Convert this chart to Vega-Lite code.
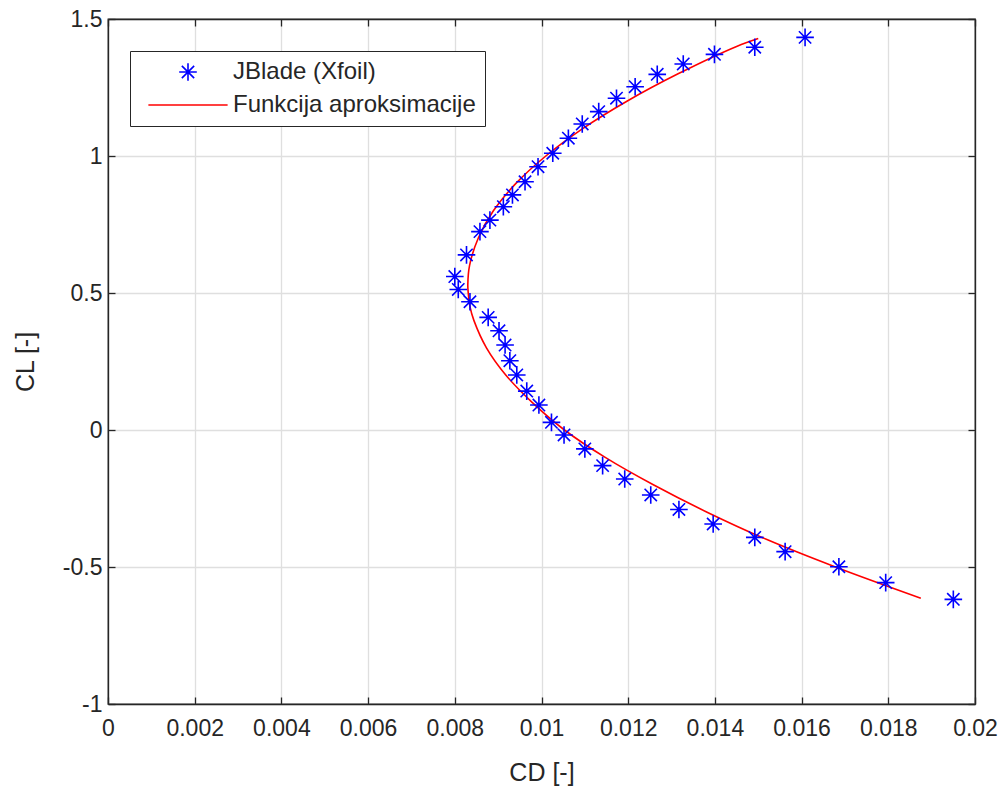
{
  "$schema": "https://vega.github.io/schema/vega-lite/v6.json",
  "width": 867,
  "height": 685,
  "autosize": {"type": "none"},
  "padding": {"left": 108, "top": 19, "right": 31, "bottom": 90},
  "background": "white",
  "config": {
    "font": "Liberation Sans",
    "view": {"stroke": "#262626", "strokeWidth": 1.3},
    "axis": {
      "domainColor": "#262626",
      "domainWidth": 1.3,
      "tickColor": "#262626",
      "tickWidth": 1.3,
      "tickSize": -7,
      "labelFlush": false,
      "labelOverlap": false,
      "labelFontSize": 23,
      "labelColor": "#262626",
      "gridColor": "#dfdfdf",
      "gridWidth": 1.3,
      "titleFontSize": 25,
      "titleFontWeight": "normal",
      "titleColor": "#262626"
    },
    "legend": {
      "orient": "none",
      "legendX": 22,
      "legendY": 32,
      "padding": 9,
      "rowPadding": 8,
      "strokeColor": "#262626",
      "fillColor": "white",
      "labelFontSize": 24,
      "labelColor": "#262626",
      "labelLimit": 0,
      "symbolSize": 310,
      "symbolStrokeWidth": 1.6,
      "symbolOffset": 37,
      "labelOffset": 33,
      "title": null
    }
  },
  "data": {
    "values": [
      {"series": "JBlade (Xfoil)", "CD": 0.01608, "CL": 1.433},
      {"series": "JBlade (Xfoil)", "CD": 0.01492, "CL": 1.397},
      {"series": "JBlade (Xfoil)", "CD": 0.01399, "CL": 1.371},
      {"series": "JBlade (Xfoil)", "CD": 0.01327, "CL": 1.336},
      {"series": "JBlade (Xfoil)", "CD": 0.01267, "CL": 1.298},
      {"series": "JBlade (Xfoil)", "CD": 0.01216, "CL": 1.253},
      {"series": "JBlade (Xfoil)", "CD": 0.01173, "CL": 1.211},
      {"series": "JBlade (Xfoil)", "CD": 0.01132, "CL": 1.162},
      {"series": "JBlade (Xfoil)", "CD": 0.01094, "CL": 1.117},
      {"series": "JBlade (Xfoil)", "CD": 0.01062, "CL": 1.065},
      {"series": "JBlade (Xfoil)", "CD": 0.01026, "CL": 1.010},
      {"series": "JBlade (Xfoil)", "CD": 0.00992, "CL": 0.961},
      {"series": "JBlade (Xfoil)", "CD": 0.00962, "CL": 0.906},
      {"series": "JBlade (Xfoil)", "CD": 0.00933, "CL": 0.858},
      {"series": "JBlade (Xfoil)", "CD": 0.00912, "CL": 0.815},
      {"series": "JBlade (Xfoil)", "CD": 0.00881, "CL": 0.766},
      {"series": "JBlade (Xfoil)", "CD": 0.00858, "CL": 0.724},
      {"series": "JBlade (Xfoil)", "CD": 0.00827, "CL": 0.639},
      {"series": "JBlade (Xfoil)", "CD": 0.00800, "CL": 0.560},
      {"series": "JBlade (Xfoil)", "CD": 0.00808, "CL": 0.513},
      {"series": "JBlade (Xfoil)", "CD": 0.00835, "CL": 0.468},
      {"series": "JBlade (Xfoil)", "CD": 0.00877, "CL": 0.411},
      {"series": "JBlade (Xfoil)", "CD": 0.00902, "CL": 0.362},
      {"series": "JBlade (Xfoil)", "CD": 0.00916, "CL": 0.310},
      {"series": "JBlade (Xfoil)", "CD": 0.00927, "CL": 0.253},
      {"series": "JBlade (Xfoil)", "CD": 0.00943, "CL": 0.201},
      {"series": "JBlade (Xfoil)", "CD": 0.00966, "CL": 0.142},
      {"series": "JBlade (Xfoil)", "CD": 0.00994, "CL": 0.091},
      {"series": "JBlade (Xfoil)", "CD": 0.01023, "CL": 0.028},
      {"series": "JBlade (Xfoil)", "CD": 0.01052, "CL": -0.018},
      {"series": "JBlade (Xfoil)", "CD": 0.01100, "CL": -0.069},
      {"series": "JBlade (Xfoil)", "CD": 0.01141, "CL": -0.130},
      {"series": "JBlade (Xfoil)", "CD": 0.01192, "CL": -0.179},
      {"series": "JBlade (Xfoil)", "CD": 0.01252, "CL": -0.237},
      {"series": "JBlade (Xfoil)", "CD": 0.01317, "CL": -0.290},
      {"series": "JBlade (Xfoil)", "CD": 0.01396, "CL": -0.343},
      {"series": "JBlade (Xfoil)", "CD": 0.01492, "CL": -0.392},
      {"series": "JBlade (Xfoil)", "CD": 0.01562, "CL": -0.444},
      {"series": "JBlade (Xfoil)", "CD": 0.01686, "CL": -0.499},
      {"series": "JBlade (Xfoil)", "CD": 0.01794, "CL": -0.557},
      {"series": "JBlade (Xfoil)", "CD": 0.01950, "CL": -0.618},
      {"series": "Funkcija aproksimacije", "CD": 0.01500, "CL": 1.429},
      {"series": "Funkcija aproksimacije", "CD": 0.01450, "CL": 1.400},
      {"series": "Funkcija aproksimacije", "CD": 0.01315, "CL": 1.300},
      {"series": "Funkcija aproksimacije", "CD": 0.01197, "CL": 1.200},
      {"series": "Funkcija aproksimacije", "CD": 0.01095, "CL": 1.100},
      {"series": "Funkcija aproksimacije", "CD": 0.01010, "CL": 1.000},
      {"series": "Funkcija aproksimacije", "CD": 0.00941, "CL": 0.900},
      {"series": "Funkcija aproksimacije", "CD": 0.00889, "CL": 0.800},
      {"series": "Funkcija aproksimacije", "CD": 0.00854, "CL": 0.700},
      {"series": "Funkcija aproksimacije", "CD": 0.00834, "CL": 0.600},
      {"series": "Funkcija aproksimacije", "CD": 0.00830, "CL": 0.530},
      {"series": "Funkcija aproksimacije", "CD": 0.00831, "CL": 0.500},
      {"series": "Funkcija aproksimacije", "CD": 0.00835, "CL": 0.450},
      {"series": "Funkcija aproksimacije", "CD": 0.00844, "CL": 0.400},
      {"series": "Funkcija aproksimacije", "CD": 0.00873, "CL": 0.300},
      {"series": "Funkcija aproksimacije", "CD": 0.00918, "CL": 0.200},
      {"series": "Funkcija aproksimacije", "CD": 0.00979, "CL": 0.100},
      {"series": "Funkcija aproksimacije", "CD": 0.01053, "CL": 0.000},
      {"series": "Funkcija aproksimacije", "CD": 0.01147, "CL": -0.100},
      {"series": "Funkcija aproksimacije", "CD": 0.01258, "CL": -0.200},
      {"series": "Funkcija aproksimacije", "CD": 0.01382, "CL": -0.300},
      {"series": "Funkcija aproksimacije", "CD": 0.01520, "CL": -0.400},
      {"series": "Funkcija aproksimacije", "CD": 0.01678, "CL": -0.500},
      {"series": "Funkcija aproksimacije", "CD": 0.01875, "CL": -0.614}
    ]
  },
  "resolve": {"axis": {"x": "independent", "y": "independent"}},
  "layer": [
    {
      "transform": [{"filter": "datum.series === 'Funkcija aproksimacije'"}],
      "mark": {"type": "line", "strokeWidth": 1.6, "interpolate": "catmull-rom", "clip": true},
      "encoding": {
        "x": {
          "field": "CD", "type": "quantitative",
          "scale": {"domain": [0, 0.02], "nice": false, "zero": false},
          "axis": {"orient": "top", "labels": false, "title": null, "grid": false,
                   "values": [0, 0.002, 0.004, 0.006, 0.008, 0.01, 0.012, 0.014, 0.016, 0.018, 0.02]}
        },
        "y": {
          "field": "CL", "type": "quantitative",
          "scale": {"domain": [-1, 1.5], "nice": false, "zero": false},
          "axis": {"orient": "right", "labels": false, "title": null, "grid": false,
                   "values": [-1, -0.5, 0, 0.5, 1, 1.5]}
        },
        "order": {"field": "CL", "type": "quantitative"},
        "color": {
          "field": "series", "type": "nominal",
          "scale": {"domain": ["JBlade (Xfoil)", "Funkcija aproksimacije"], "range": ["#0000ff", "#ff0000"]}
        }
      }
    },
    {
      "transform": [{"filter": "datum.series === 'JBlade (Xfoil)'"}],
      "mark": {"type": "point", "filled": false, "size": 310, "strokeWidth": 1.6, "opacity": 1},
      "encoding": {
        "x": {
          "field": "CD", "type": "quantitative",
          "axis": {"orient": "bottom", "title": "CD [-]", "grid": true,
                   "labelExpr": "'' + datum.value",
                   "labelPadding": 20, "titleBaseline": "alphabetic", "titleY": 76,
                   "values": [0, 0.002, 0.004, 0.006, 0.008, 0.01, 0.012, 0.014, 0.016, 0.018, 0.02]}
        },
        "y": {
          "field": "CL", "type": "quantitative",
          "axis": {"orient": "left", "title": "CL [-]", "grid": true,
                   "labelExpr": "'' + datum.value",
                   "labelPadding": 13, "titleBaseline": "alphabetic", "titleX": -75, "titleY": 342.5,
                   "titleAlign": "center", "titleAngle": -90,
                   "values": [-1, -0.5, 0, 0.5, 1, 1.5]}
        },
        "color": {
          "field": "series", "type": "nominal",
          "scale": {"domain": ["JBlade (Xfoil)", "Funkcija aproksimacije"], "range": ["#0000ff", "#ff0000"]}
        },
        "shape": {
          "field": "series", "type": "nominal",
          "scale": {"domain": ["JBlade (Xfoil)", "Funkcija aproksimacije"],
                    "range": ["M-1,0L1,0M0,-1L0,1M-0.7,-0.7L0.7,0.7M-0.7,0.7L0.7,-0.7", "M-4.5,0L4.5,0"]}
        }
      }
    }
  ]
}
